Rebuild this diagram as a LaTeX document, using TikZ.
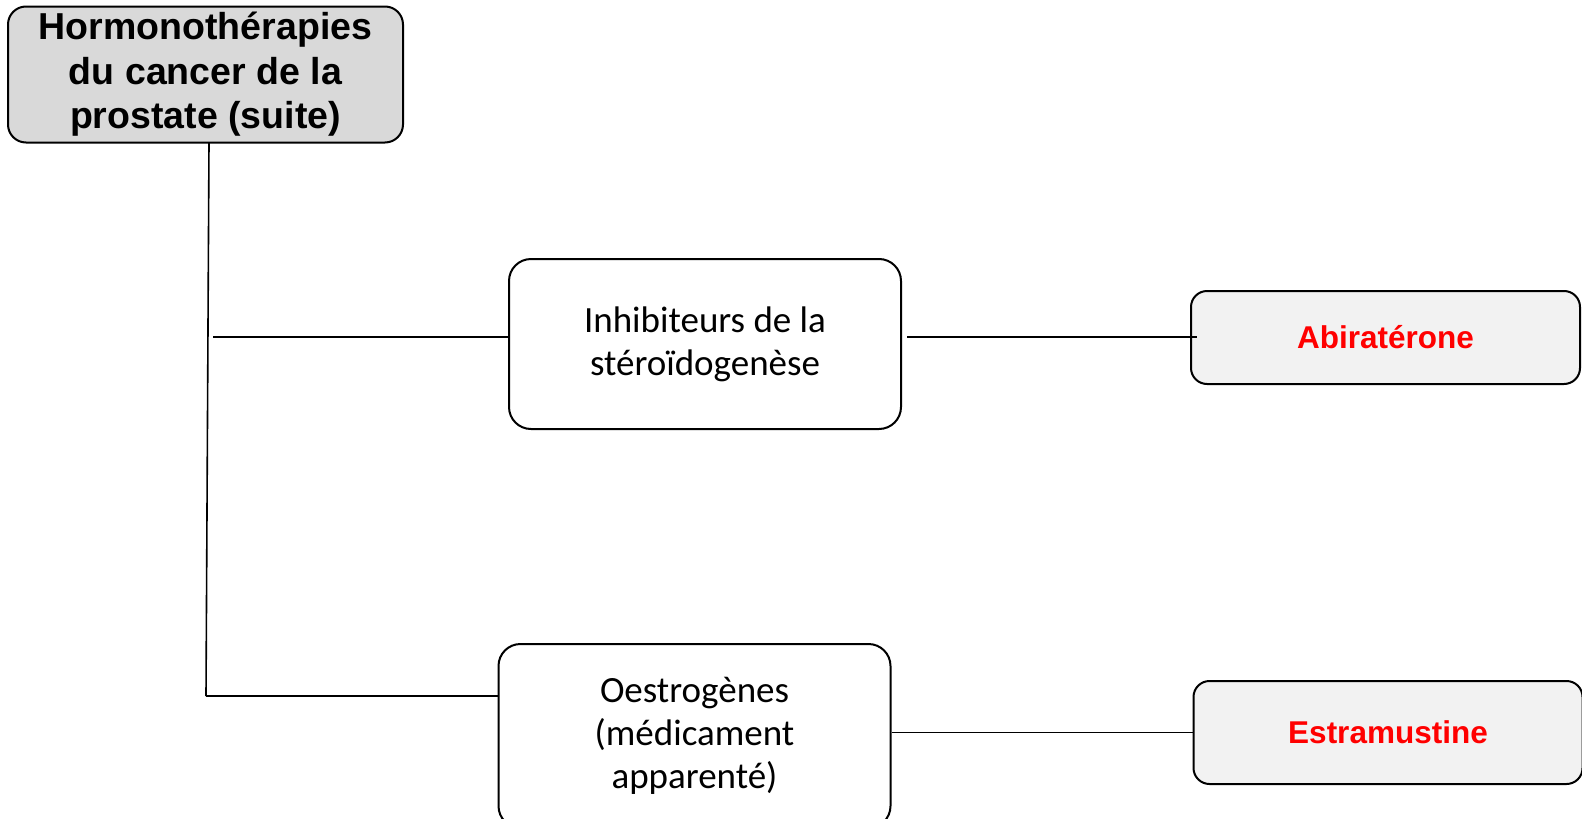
\documentclass[tikz,border=0pt]{standalone}
\usepackage{fontspec}
\setmainfont{Carlito}
\newfontfamily\arialfont{Liberation Sans}
\definecolor{headgray}{HTML}{D9D9D9}
\definecolor{drugfill}{HTML}{F2F2F2}
\begin{document}
\begin{tikzpicture}[x=1pt,y=-1pt,
    heading/.style ={draw, line width=2pt, rounded corners=18pt, fill=headgray,
      minimum width=395pt, minimum height=136pt, align=center,
      font=\arialfont\bfseries\fontsize{37.5}{44.5}\selectfont},
    family/.style ={draw, line width=2pt, rounded corners=22pt, fill=white,
      minimum width=392pt, align=center, font=\fontsize{37}{43}\selectfont},
    drug/.style ={draw, line width=2pt, rounded corners=16pt, fill=drugfill,
      minimum width=389pt, text=red, font=\arialfont\bfseries\fontsize{31.5}{37}\selectfont},
    link/.style ={line width=1.6pt}]
   \useasboundingbox (0,0) rectangle (1582,819);
   \node[heading] (head) at (205.5,74.5) {Hormonothérapies\\du cancer de la\\prostate (suite)};
   \node[family, minimum height=170pt] (inhib) at (705,344) {Inhibiteurs de la\\stéroïdogenèse};
   \node[family, minimum height=184pt] (oestro) at (694.5,736) {Oestrogènes\\(médicament\\apparenté)};
   \node[drug, minimum height=93pt] (abira) at (1385.5,337.5) {Abiratérone};
   \node[drug, minimum height=103pt] (estra) at (1388,732.5) {Estramustine};

   \coordinate (trunk) at (209,142.5);
   \coordinate (corner) at (206,696);
   \coordinate (branch) at (213,337);
   \coordinate (tip) at (1197,337);

   \draw[link] (trunk) to (corner);
   \draw[link] (corner) to (corner -| oestro.west);
   \draw[link] (branch) to (branch -| inhib.west);
   \draw[link] ([xshift=5pt]inhib.east |- branch) to (tip);
   \draw[link] (oestro.east |- estra.west) to (estra.west);
 \end{tikzpicture}
\end{document}
